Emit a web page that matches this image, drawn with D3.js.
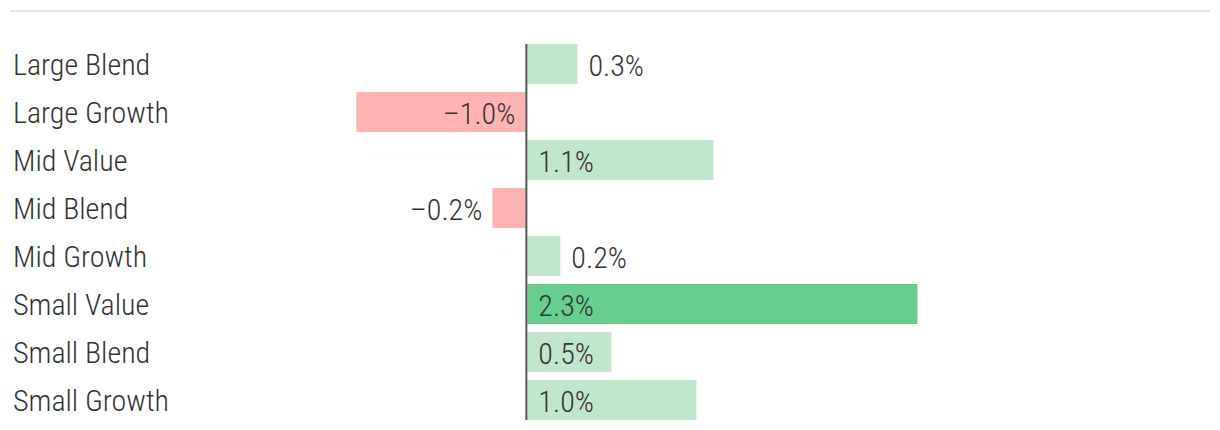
<!DOCTYPE html>
<html><head><meta charset="utf-8">
<script src="https://cdn.jsdelivr.net/npm/d3@7"></script>
<style>
body{margin:0;background:#fff;}
svg text{font-family:"Roboto Condensed","Liberation Sans Narrow",Roboto,sans-serif;font-stretch:condensed;font-weight:300;fill:#333;}
</style></head>
<body><svg id="c" width="1220" height="430"></svg>
<script>
const categories = ["Large Blend","Large Growth","Mid Value","Mid Blend","Mid Growth","Small Value","Small Blend","Small Growth"];
const values = [0.3,-1.0,1.1,-0.2,0.2,2.3,0.5,1.0];
const valueLabels = ["0.3%","\u20131.0%","1.1%","\u20130.2%","0.2%","2.3%","0.5%","1.0%"];

const svg = d3.select("#c");
const x = d3.scaleLinear().domain([-1.0, 2.3]).range([356.3, 917.5]);
const y = d3.scaleBand().domain(categories).range([44, 420]).paddingInner(1/6).paddingOuter(0);

svg.append("line").attr("x1",10).attr("x2",1210).attr("y1",11).attr("y2",11)
  .attr("stroke","#e5e5e5").attr("stroke-width",2);

const maxV = d3.max(values);
const rows = svg.append("g").selectAll("g").data(categories).join("g");

rows.append("rect")
  .attr("x",(d,i)=> values[i] >= 0 ? x(0)+1 : x(values[i]))
  .attr("width",(d,i)=> Math.abs(x(values[i]) - x(0)) - 1)
  .attr("y", d=> y(d))
  .attr("height", y.bandwidth())
  .attr("fill",(d,i)=> values[i] < 0 ? "#ffb3b3" : (values[i]===maxV ? "#66cf8d" : "#c0e6cb"));

rows.append("text")
  .attr("x",13)
  .attr("y", d=> y(d) + y.bandwidth()/2 + 10.5)
  .attr("font-size",30)
  .text(d=>d);

rows.append("text")
  .attr("font-size",30)
  .text((d,i)=>valueLabels[i])
  .each(function(d,i){
    const t = d3.select(this);
    const w = this.getComputedTextLength();
    const v = values[i];
    const bw = Math.abs(x(v)-x(0));
    const yy = y(d) + y.bandwidth()/2 + 11.5;
    t.attr("y", yy);
    if (v >= 0) {
      if (w + 20 < bw) t.attr("x", x(0)+12).attr("text-anchor","start");
      else t.attr("x", x(v)+11).attr("text-anchor","start");
    } else {
      if (w + 20 < bw) t.attr("x", x(0)-11).attr("text-anchor","end");
      else t.attr("x", x(v)-10).attr("text-anchor","end");
    }
  });

svg.append("line").attr("x1",x(0)).attr("x2",x(0)).attr("y1",44).attr("y2",420)
  .attr("stroke","#555").attr("stroke-width",2);
</script></body></html>
